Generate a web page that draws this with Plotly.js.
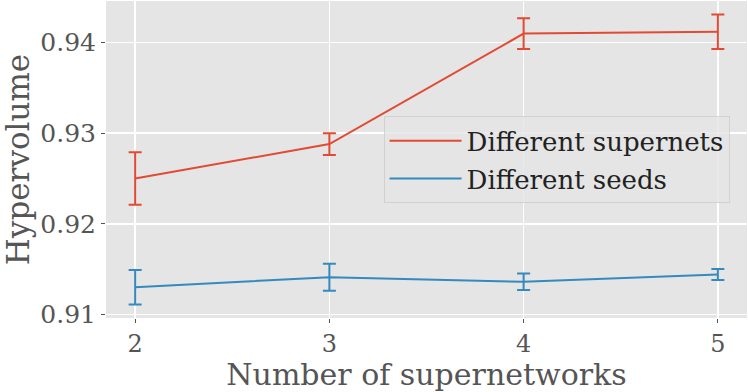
<!DOCTYPE html>
<html>
<head>
<meta charset="utf-8">
<script src="https://cdn.plot.ly/plotly-3.0.1.min.js"></script>
<style>
  html, body { margin: 0; padding: 0; background: #fff; }
  #chart { width: 748px; height: 392px; }
</style>
</head>
<body>
<div id="chart"></div>
<script>
// Number of supernetworks on the x axis
var numSupernets = [2, 3, 4, 5];

// Hypervolume means and error bar half-widths
var supernetsMean = [0.9250, 0.9288, 0.9410, 0.9412];
var supernetsErr  = [0.0029, 0.0012, 0.0017, 0.0019];
var seedsMean = [0.9130, 0.9141, 0.9136, 0.9144];
var seedsErr  = [0.0019, 0.0015, 0.0009, 0.0006];

var yTicks = [0.91, 0.92, 0.93, 0.94];

var red = '#E24A33';
var blue = '#348ABD';

var traces = [
  {
    x: numSupernets, y: supernetsMean,
    error_y: { type: 'data', array: supernetsErr, visible: true, color: red, thickness: 2, width: 6.5 },
    type: 'scatter', mode: 'lines',
    line: { color: red, width: 2 },
    name: 'Different supernets', legendgroup: 'a'
  },
  {
    x: numSupernets, y: seedsMean,
    error_y: { type: 'data', array: seedsErr, visible: true, color: blue, thickness: 2, width: 6.5 },
    type: 'scatter', mode: 'lines',
    line: { color: blue, width: 2 },
    name: 'Different seeds', legendgroup: 'b'
  }
];

var layout = {
  width: 748, height: 392,
  margin: { l: 106, r: 1, t: 1, b: 74 },
  paper_bgcolor: '#ffffff',
  plot_bgcolor: '#E5E5E5',
  font: { family: 'DejaVu Serif, serif', color: '#555555' },
  showlegend: true,
  legend: {
    x: 0.433, y: 0.636, xanchor: 'left', yanchor: 'top',
    bgcolor: 'rgba(229,229,229,0.8)',
    bordercolor: 'rgba(204,204,204,0.8)', borderwidth: 1,
    font: { size: 26, color: '#222222' },
    itemwidth: 72,
    tracegroupgap: 1
  },
  xaxis: {
    range: [1.85, 5.15],
    tickvals: numSupernets,
    ticks: 'outside', ticklen: 4, tickcolor: '#555555',
    tickfont: { size: 24, color: '#555555' },
    showgrid: true, gridcolor: '#ffffff', gridwidth: 1.5,
    zeroline: false, showline: false,
    title: { text: 'Number of supernetworks', font: { size: 30, color: '#555555' }, standoff: 8 }
  },
  yaxis: {
    range: [0.9096, 0.9446],
    tickvals: yTicks,
    ticktext: yTicks.map(function (v) { return v.toFixed(2); }),
    ticks: 'outside', ticklen: 4, tickcolor: '#555555',
    tickfont: { size: 25, color: '#555555' },
    showgrid: true, gridcolor: '#ffffff', gridwidth: 1.5,
    zeroline: false, showline: false,
    title: { text: 'Hypervolume', font: { size: 31, color: '#555555' }, standoff: 6 }
  }
};

Plotly.newPlot('chart', traces, layout, { displayModeBar: false, staticPlot: true });
</script>
</body>
</html>
